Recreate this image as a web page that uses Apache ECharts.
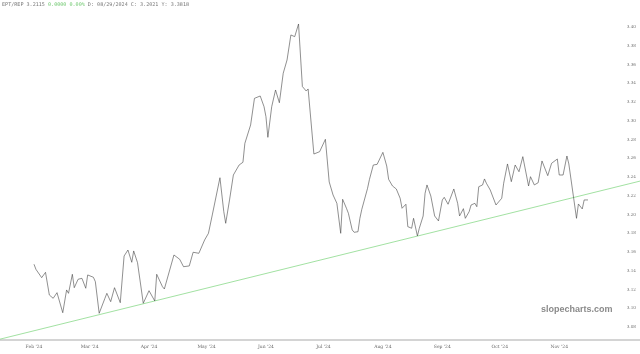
<!DOCTYPE html>
<html>
<head>
<meta charset="utf-8">
<script src="https://cdn.jsdelivr.net/npm/echarts@6.0.0/dist/echarts.min.js"></script>
<style>
html,body{margin:0;padding:0;background:#fff;}
#chart{width:640px;height:354px;}
</style>
</head>
<body>
<div id="chart"></div>
<script>
// ---- data ----
const dates = [
'2024-02-01','2024-02-02','2024-02-05','2024-02-07','2024-02-09','2024-02-11','2024-02-13','2024-02-16','2024-02-18','2024-02-19',
'2024-02-21','2024-02-22','2024-02-24','2024-02-25','2024-02-26','2024-02-28','2024-02-29','2024-03-03','2024-03-04','2024-03-06',
'2024-03-09','2024-03-10','2024-03-12','2024-03-14','2024-03-17','2024-03-19','2024-03-21','2024-03-23','2024-03-24','2024-03-26',
'2024-03-29','2024-04-01','2024-04-04','2024-04-05','2024-04-08','2024-04-09','2024-04-14','2024-04-17','2024-04-19','2024-04-22',
'2024-04-24','2024-04-27','2024-04-30','2024-05-02','2024-05-04','2024-05-05','2024-05-08','2024-05-10','2024-05-11','2024-05-13',
'2024-05-15','2024-05-18','2024-05-20','2024-05-21','2024-05-24','2024-05-26','2024-05-29','2024-05-31','2024-06-01','2024-06-02',
'2024-06-04','2024-06-06','2024-06-07','2024-06-08','2024-06-10','2024-06-12','2024-06-14','2024-06-16','2024-06-18','2024-06-20',
'2024-06-22','2024-06-23','2024-06-26','2024-06-29','2024-07-02','2024-07-04','2024-07-06','2024-07-08','2024-07-10','2024-07-11',
'2024-07-13','2024-07-14','2024-07-16','2024-07-17','2024-07-19','2024-07-20','2024-07-21','2024-07-24','2024-07-25','2024-07-27',
'2024-07-29','2024-08-01','2024-08-03','2024-08-04','2024-08-06','2024-08-08','2024-08-09','2024-08-10','2024-08-11','2024-08-13',
'2024-08-14','2024-08-16','2024-08-17','2024-08-19','2024-08-20','2024-08-22','2024-08-23','2024-08-24','2024-08-26','2024-08-28',
'2024-08-30','2024-09-01','2024-09-02','2024-09-04','2024-09-07','2024-09-09','2024-09-10','2024-09-12','2024-09-13','2024-09-15',
'2024-09-16','2024-09-18','2024-09-19','2024-09-20','2024-09-22','2024-09-23','2024-09-24','2024-09-26','2024-09-27','2024-09-29',
'2024-10-02','2024-10-03','2024-10-05','2024-10-07','2024-10-09','2024-10-11','2024-10-13','2024-10-14','2024-10-16','2024-10-17',
'2024-10-19','2024-10-21','2024-10-23','2024-10-24','2024-10-26','2024-10-28','2024-10-29','2024-10-31','2024-11-01','2024-11-03',
'2024-11-05','2024-11-06','2024-11-10','2024-11-11','2024-11-13','2024-11-14','2024-11-16'
];
const ratio = [
3.1469,3.1415,3.1326,3.1383,3.1141,3.1106,3.1166,3.0952,3.1195,3.1159,
3.1362,3.1219,3.1309,3.1294,3.1319,3.1213,3.1355,3.1330,3.1283,3.0946,
3.1106,3.1159,3.1070,3.1219,3.1059,3.1557,3.1621,3.1490,3.1611,3.1486,
3.1053,3.1187,3.1077,3.1362,3.1230,3.1205,3.1568,3.1522,3.1443,3.1451,
3.1597,3.1586,3.1728,3.1799,3.1995,3.2005,3.2392,3.2030,3.1906,3.2155,
3.2421,3.2528,3.2557,3.2759,3.2955,3.3239,3.3264,3.3150,3.3043,3.2823,
3.3150,3.3328,3.3335,3.3192,3.3506,3.3648,3.3915,3.3897,3.4032,3.3365,
3.3317,3.3339,3.2645,3.2670,3.2802,3.2347,3.2208,3.2119,3.1799,3.2162,
3.2066,3.2013,3.1835,3.1810,3.1816,3.1959,3.2055,3.2279,3.2375,3.2528,
3.2535,3.2663,3.2517,3.2375,3.2304,3.2272,3.2279,3.2173,3.2066,3.2109,
3.1870,3.1853,3.1959,3.1771,3.1853,3.1984,3.2226,3.2315,3.2197,3.1984,
3.1931,3.2155,3.2183,3.2109,3.2272,3.2119,3.1984,3.2062,3.1959,3.2030,
3.2101,3.2119,3.2083,3.2296,3.2315,3.2379,3.2333,3.2261,3.2272,3.2101,
3.2173,3.2333,3.2539,3.2350,3.2528,3.2456,3.2617,3.2606,3.2304,3.2403,
3.2315,3.2339,3.2571,3.2557,3.2414,3.2546,3.2552,3.2592,3.2421,3.2421,
3.2624,3.2539,3.1959,3.2112,3.2059,3.2155,3.2155
];
// green trendline (end points at the chart edges)
const trendDates = ['2024-01-14 06:15', '2024-12-13 03:00'];
const trendValues = [3.0670, 3.2356];

const monthTicks = ['2024-02-01','2024-03-01','2024-04-01','2024-05-01','2024-06-01','2024-07-01','2024-08-01','2024-09-01','2024-10-01','2024-11-01'];
const monthLabels = ["Feb '24","Mar '24","Apr '24","May '24","Jun '24","Jul '24","Aug '24","Sep '24","Oct '24","Nov '24"];
const yTicks = [3.08,3.10,3.12,3.14,3.16,3.18,3.20,3.22,3.24,3.26,3.28,3.30,3.32,3.34,3.36,3.38,3.40];

const headerParts = ['EPT/REP 3.2115 ', '0.0000 0.00%', ' D: 08/29/2024 C: 3.2021 Y: 3.3818'];
const watermark = 'slopecharts.com';

// ---- chart ----
const ts = s => echarts.number.parseDate(s).getTime();
const monthTs = monthTicks.map(ts);

const chart = echarts.init(document.getElementById('chart'), null, {renderer: 'canvas'});
chart.setOption({
  animation: false,
  backgroundColor: '#ffffff',
  grid: {left: 0, right: 0, top: 0, bottom: 14, containLabel: false},
  xAxis: {
    type: 'value',
    min: ts(trendDates[0]),
    max: ts(trendDates[1]),
    axisLine: {show: true, lineStyle: {color: '#d4d4d4', width: 2}},
    axisTick: {show: false},
    splitLine: {show: false},
    axisLabel: {
      customValues: monthTs,
      margin: 4,
      fontSize: 4.5,
      color: '#666',
      fontFamily: 'DejaVu Serif',
      formatter: function (v) {
        const i = monthTs.indexOf(v);
        return i >= 0 ? monthLabels[i] : '';
      }
    }
  },
  yAxis: {
    type: 'value',
    position: 'right',
    min: 3.0661,
    max: 3.4288,
    axisLine: {show: false},
    axisTick: {show: false},
    splitLine: {show: false},
    axisLabel: {
      customValues: yTicks,
      inside: true,
      margin: 4,
      fontSize: 4.2,
      color: '#777',
      fontFamily: 'DejaVu Serif',
      formatter: v => v.toFixed(2)
    }
  },
  series: [
    {
      type: 'line',
      data: trendDates.map((d, i) => [ts(d), trendValues[i]]),
      symbol: 'none',
      lineStyle: {color: '#8ad98a', width: 0.8},
      silent: true,
      z: 1
    },
    {
      type: 'line',
      data: dates.map((d, i) => [ts(d), ratio[i]]),
      symbol: 'none',
      lineStyle: {color: '#444444', width: 0.6},
      silent: true,
      z: 2
    }
  ],
  graphic: [
    {
      type: 'text', left: 2, top: 2,
      style: {
        text: '{a|' + headerParts[0] + '}{g|' + headerParts[1] + '}{a|' + headerParts[2] + '}',
        rich: {
          a: {fontFamily: 'DejaVu Sans Mono', fontSize: 5.1, fill: '#777'},
          g: {fontFamily: 'DejaVu Sans Mono', fontSize: 5.1, fill: '#6cc76c'}
        }
      }
    },
    {
      type: 'text', left: 541, top: 305,
      style: {text: watermark, fontFamily: 'Liberation Sans', fontWeight: 'bold', fontSize: 9, fill: '#8a8a8a'}
    }
  ]
});
</script>
</body>
</html>
